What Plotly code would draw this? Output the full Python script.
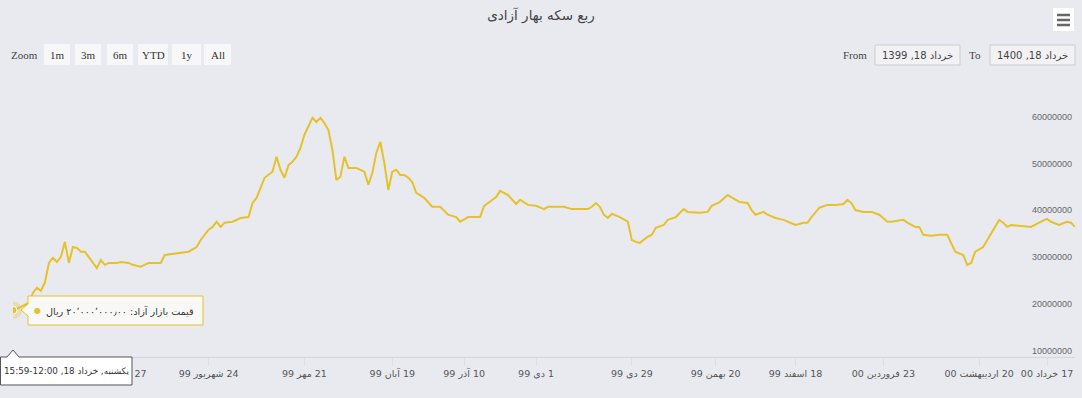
import plotly.graph_objects as go

W, H = 1082, 398
ML, MR, MT, MB = 13, 7, 80, 41
PW = W - ML - MR
PH = H - MT - MB

# ---------------- data ----------------
# ordinal position (trading step) of each sample
step = [0, 2, 4, 5, 6, 7, 8, 9, 10, 11, 12, 13, 14, 15, 16, 17, 18, 19, 21, 22,
        23, 24, 26, 27, 29, 30, 32, 34, 37, 38, 40, 42, 44, 46, 47, 49, 50, 51, 52, 53,
        55, 57, 59, 60, 61, 62, 63, 65, 66, 67, 68, 69, 70, 71, 72, 73, 74, 75, 76, 77,
        78, 79, 80, 81, 82, 83, 84, 86, 87, 88, 89, 90, 91, 92, 93, 94, 95, 96, 97, 98,
        99, 100, 101, 102, 103, 105, 107, 109, 111, 112, 114, 117, 118, 119, 121, 122, 124, 126, 127, 129,
        131, 133, 134, 138, 140, 144, 145, 146, 147, 148, 149, 150, 152, 154, 155, 156, 157, 159, 160, 161,
        163, 164, 166, 168, 169, 172, 174, 175, 177, 179, 181, 182, 184, 185, 186, 188, 189, 191, 193, 194,
        196, 198, 199, 200, 202, 204, 206, 208, 209, 210, 211, 213, 215, 217, 219, 220, 223, 224, 226, 227,
        228, 230, 232, 234, 235, 236, 238, 239, 240, 241, 243, 244, 245, 247, 248, 249, 250, 252, 255, 257,
        259, 260, 262, 264, 265, 266]

# free-market price, millions of rial
price_m = [20.0, 20.7, 21.6, 23.7, 24.8, 24.1, 26.0, 30.1, 31.2, 30.3, 31.4, 34.6, 30.1, 33.5, 33.3, 32.5, 32.5, 31.4, 29.0, 30.7,
           29.7, 30.1, 30.1, 30.3, 30.1, 29.7, 29.3, 30.1, 30.1, 31.8, 32.0, 32.2, 32.5, 33.5, 35.0, 37.2, 37.8, 38.9, 37.8, 38.7,
           38.9, 39.7, 39.9, 42.9, 44.0, 46.1, 48.3, 49.6, 52.8, 50.0, 48.3, 51.0, 51.7, 52.8, 54.7, 57.5, 59.2, 61.1, 60.2, 61.1,
           60.0, 58.5, 54.3, 47.8, 48.5, 52.8, 50.4, 50.4, 50.0, 49.6, 46.8, 49.3, 53.6, 56.0, 51.5, 45.7, 49.6, 50.0, 48.9, 48.9,
           48.3, 47.4, 45.1, 44.6, 44.0, 42.1, 42.1, 40.4, 39.9, 38.9, 39.9, 39.9, 42.3, 42.9, 44.2, 45.5, 44.6, 42.7, 43.6, 42.5,
           42.3, 41.6, 42.1, 42.1, 41.6, 41.6, 42.1, 42.9, 42.1, 40.4, 39.7, 40.6, 39.9, 38.9, 35.0, 34.6, 34.4, 35.7, 36.1, 37.6,
           38.2, 39.3, 39.9, 41.6, 41.0, 40.8, 41.0, 42.3, 43.1, 44.6, 43.6, 43.1, 42.9, 41.4, 40.4, 41.0, 40.4, 39.7, 39.3, 38.9,
           38.2, 38.7, 38.7, 39.9, 41.9, 42.5, 42.5, 42.7, 43.6, 42.9, 41.4, 41.0, 41.0, 40.4, 38.9, 38.9, 39.3, 38.7, 37.8, 37.8,
           36.1, 35.9, 36.1, 36.1, 34.4, 32.5, 31.8, 29.7, 30.1, 32.5, 33.5, 35.0, 36.5, 39.3, 38.7, 37.8, 38.2, 38.0, 37.8, 38.7,
           39.5, 38.9, 38.2, 38.9, 38.7, 37.8]

price = [v * 1_000_000 for v in price_m]

tick_step = [27, 49, 73, 95, 113, 131, 155, 176, 196, 218, 242, 259]
tick_text = ["27 مرداد 99", "24 شهریور 99", "21 مهر 99", "19 آبان 99", "10 آذر 99",
             "1 دی 99", "29 دی 99", "20 بهمن 99", "18 اسفند 99", "23 فروردین 00",
             "20 اردیبهشت 00", "17 خرداد 00"]
y_ticks = [10000000, 20000000, 30000000, 40000000, 50000000, 60000000]

title_text = "ربع سکه بهار آزادی"
zoom_buttons = ["1m", "3m", "6m", "YTD", "1y", "All"]
from_text = "خرداد 18, 1399"
to_text = "خرداد 18, 1400"
tooltip_text = "قیمت بازار آزاد: ۲۰٬۰۰۰٬۰۰۰٫۰۰ ریال"
date_text = "یکشنبه, خرداد 18, 12:00-15:59"

# ---------------- style ----------------
BG = "#e9eaf0"
GOLD = "#e5c22b"
RLM = "\u200f"
SANS = "DejaVu Sans, Tahoma, sans-serif"
SERIF = "Liberation Serif, Times New Roman, serif"
YMAX = 10e6 + PH / 4.68 * 1e6


def px(xp):
    return (xp - ML) / PW


def py(yp):
    return (H - MB - yp) / PH


fig = go.Figure()
fig.add_trace(go.Scatter(x=step, y=price, mode="lines",
                         line=dict(color=GOLD, width=2), hoverinfo="skip"))
# hovered point halo + marker
fig.add_trace(go.Scatter(x=step[:1], y=price[:1], mode="markers",
                         marker=dict(size=18, color=GOLD, opacity=0.3), hoverinfo="skip"))
fig.add_trace(go.Scatter(x=step[:1], y=price[:1], mode="markers",
                         marker=dict(size=8, color=GOLD, line=dict(width=1, color="#ffffff")),
                         hoverinfo="skip"))
# carrier for the value-axis labels
fig.add_trace(go.Scatter(x=step[:1], y=price[:1], mode="markers", yaxis="y2",
                         marker=dict(size=1, opacity=0), hoverinfo="skip"))

shapes = []
ann = []

# range selector buttons
btn_x = [(44, 70), (75, 101), (107, 133), (138, 168), (172, 201), (204, 231)]
ann.append(dict(x=px(24), y=py(55), text="Zoom", font=dict(family=SERIF, size=11, color="#444")))
for (a, b), lab in zip(btn_x, zoom_buttons):
    shapes.append(dict(type="rect", xref="paper", yref="paper", x0=px(a), x1=px(b),
                       y0=py(44), y1=py(65), fillcolor="#f7f7f7", line=dict(width=0), layer="above"))
    ann.append(dict(x=px((a + b) / 2), y=py(55), text=lab,
                    font=dict(family=SERIF, size=11, color="#333")))

# From / To inputs
ann.append(dict(x=px(855), y=py(55), text="From", font=dict(family=SERIF, size=11, color="#444")))
ann.append(dict(x=px(975), y=py(55), text="To", font=dict(family=SERIF, size=11, color="#444")))
for (a, b), t in [((875, 960), from_text), ((990, 1075), to_text)]:
    shapes.append(dict(type="rect", xref="paper", yref="paper", x0=px(a), x1=px(b),
                       y0=py(45), y1=py(65), fillcolor="#f2f2f4",
                       line=dict(width=1, color="#cccccc"), layer="above"))
    ann.append(dict(x=px((a + b) / 2), y=py(55), text=t,
                    font=dict(family=SANS, size=10, color="#444")))

# hamburger (export menu) icon
shapes.append(dict(type="rect", xref="paper", yref="paper", x0=px(1053), x1=px(1074),
                   y0=py(8), y1=py(31), fillcolor="#ffffff", line=dict(width=0), layer="above"))
for yy in (15, 20, 25):
    shapes.append(dict(type="line", xref="paper", yref="paper", x0=px(1057), x1=px(1070),
                       y0=py(yy), y1=py(yy), line=dict(width=2.5, color="#666666"), layer="above"))


def path(points):
    return "M " + " L ".join(f"{px(a):.5f},{py(b):.5f}" for a, b in points) + " Z"


# series tooltip (callout)
shapes.append(dict(type="path", xref="paper", yref="paper",
                   path=path([(28, 296), (203, 296), (203, 325), (28, 325), (28, 316), (21, 310), (28, 304)]),
                   fillcolor="rgba(248,248,246,0.92)", line=dict(width=1, color=GOLD), layer="above"))
ann.append(dict(x=px(37), y=py(310.5), text="●", font=dict(family=SANS, size=8, color=GOLD)))
ann.append(dict(x=px(196), y=py(310.5), text=tooltip_text, xanchor="right",
                font=dict(family=SANS, size=9.6, color="#333")))

# date label on x axis
shapes.append(dict(type="path", xref="paper", yref="paper",
                   path=path([(0.5, 357), (7, 357), (13, 350), (19, 357), (132, 357), (132, 385), (0.5, 385)]),
                   fillcolor="#ffffff", line=dict(width=1, color="#555555"), layer="above"))
ann.append(dict(x=px(66), y=py(371), text=date_text, font=dict(family=SANS, size=8.8, color="#333")))

for a in ann:
    a.setdefault("xref", "paper")
    a.setdefault("yref", "paper")
    a.setdefault("showarrow", False)
    a.setdefault("xanchor", "center")
    a.setdefault("yanchor", "middle")

fig.update_layout(
    width=W, height=H,
    margin=dict(l=ML, r=MR, t=MT, b=MB),
    paper_bgcolor=BG, plot_bgcolor=BG,
    showlegend=False,
    title=dict(text=title_text, x=0.5, xref="container", xanchor="center",
               y=1 - 15 / H, yref="container", yanchor="middle",
               font=dict(family=SANS, size=13.5, color="#444")),
    xaxis=dict(range=[0, 266], tickmode="array", tickvals=tick_step,
               ticktext=[RLM + t for t in tick_text],
               showgrid=False, zeroline=False, showline=True, linecolor="#d3d6e0", linewidth=1,
               ticks="outside", ticklen=8, tickcolor="#dcdee6",
               ticklabeloverflow="allow",
               tickfont=dict(family=SANS, size=9.5, color="#555")),
    yaxis=dict(range=[10e6, YMAX], showticklabels=False, showgrid=False,
               zeroline=False, showline=False, ticks=""),
    yaxis2=dict(range=[10e6, YMAX], overlaying="y", side="right", anchor="free",
                position=px(1031), tickmode="array",
                tickvals=y_ticks, ticktext=[str(v) for v in y_ticks],
                ticklabelposition="outside top", showgrid=False, zeroline=False,
                showline=False, ticks="",
                tickfont=dict(family="Liberation Sans, Arial, sans-serif", size=9, color="#666")),
    shapes=shapes,
    annotations=ann,
)

fig.write_html("out.html")
